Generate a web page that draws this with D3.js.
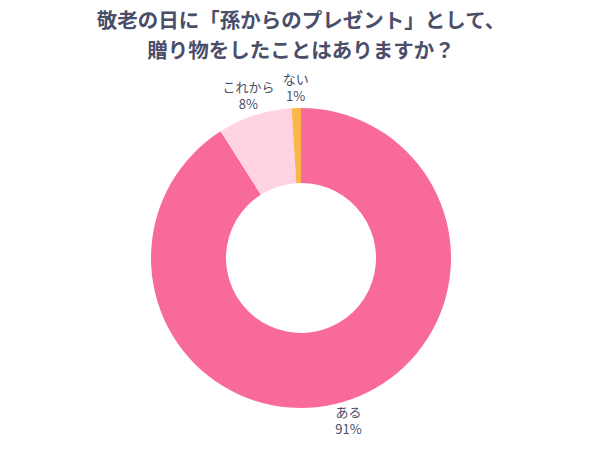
<!DOCTYPE html>
<html>
<head>
<meta charset="utf-8">
<script src="https://cdn.jsdelivr.net/npm/d3@7"></script>
<style>
  body { margin: 0; background: #fff; }
  svg { display: block; font-family: "Noto Sans CJK JP", "Noto Sans", sans-serif; }
</style>
</head>
<body>
<svg id="chart" width="602" height="451"></svg>
<script>
// Chart data
const titleLines = ["敬老の日に「孫からのプレゼント」として、", "贈り物をしたことはありますか？"];
const categories = ["ある", "これから", "ない"];
const values = [91, 8, 1];
const colors = ["#F86A98", "#FFD3E1", "#F9B74C"];

const svg = d3.select("#chart");
const width = 602, height = 451;
const cx = 301, cy = 258;
const outerR = 150, innerR = 75, labelR = 170;
const textColor = "#4A4E69";

// Title
svg.append("g")
    .selectAll("text")
    .data(titleLines)
    .enter()
    .append("text")
    .attr("x", width / 2)
    .attr("y", (d, i) => 28 + i * 30)
    .attr("text-anchor", "middle")
    .attr("font-size", 20.5)
    .attr("font-weight", "bold")
    .attr("fill", textColor)
    .text(d => d);

const data = categories.map((c, i) => ({ label: c, value: values[i], color: colors[i] }));

const pie = d3.pie()
    .value(d => d.value)
    .sort(null);

const arc = d3.arc()
    .innerRadius(innerR)
    .outerRadius(outerR);

const labelArc = d3.arc()
    .innerRadius(labelR)
    .outerRadius(labelR);

const g = svg.append("g")
    .attr("transform", `translate(${cx},${cy})`);

const arcs = pie(data);

// Slices
g.selectAll("path")
    .data(arcs)
    .enter()
    .append("path")
    .attr("d", arc)
    .attr("fill", d => d.data.color);

// Labels: name on one line, percent below
const labels = g.selectAll(".label")
    .data(arcs)
    .enter()
    .append("g")
    .attr("class", "label")
    .attr("transform", d => `translate(${labelArc.centroid(d)})`)
    .attr("text-anchor", "middle")
    .attr("font-size", 13)
    .attr("fill", textColor);

labels.append("text")
    .attr("y", -4)
    .text(d => d.data.label);

labels.append("text")
    .attr("y", 13)
    .text(d => d.data.value + "%");
</script>
</body>
</html>
